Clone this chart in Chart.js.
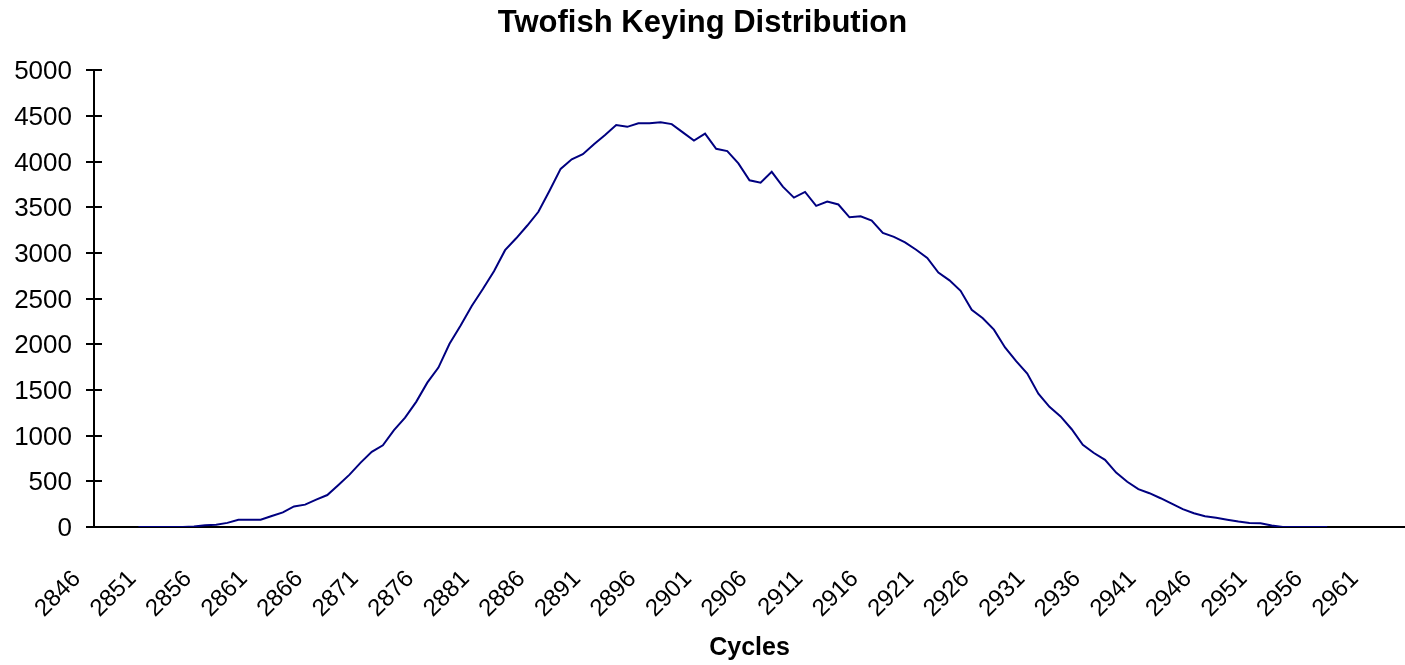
<!DOCTYPE html>
<html>
<head>
<meta charset="utf-8">
<title>Twofish Keying Distribution</title>
<script src="https://cdn.jsdelivr.net/npm/chart.js@4.4.1/dist/chart.umd.min.js"></script>
<style>
   html, body { margin: 0; padding: 0; background: #fff; overflow: hidden; }
</style>
</head>
<body>
<canvas id="keying-chart" width="1405" height="665"></canvas>
<script>
/*=======================================
 data
========================================*/

// one category per cycle, 2846 .. 2964
var cycles = [];
for (let c = 2846; c <= 2964; c++) cycles.push(String(c));

// number of keys that took that many cycles
var keyings = [
   null, null, null, null,
   0, 0, 0, 0, 0, 5, 20, 25, 45, 80,
   80, 80, 120, 160, 225, 245, 300, 350, 460, 573,
   705, 822, 895, 1060, 1197, 1370, 1580, 1745, 2005, 2205,
   2420, 2605, 2800, 3030, 3160, 3300, 3450, 3680, 3920, 4025,
   4080, 4190, 4290, 4400, 4380, 4418, 4420, 4430, 4410, 4320,
   4230, 4305, 4140, 4115, 3980, 3795, 3768, 3888, 3725, 3605,
   3667, 3515, 3562, 3530, 3390, 3400, 3355, 3220, 3175, 3115,
   3035, 2945, 2785, 2700, 2585, 2377, 2285, 2160, 1965, 1815,
   1680, 1460, 1315, 1210, 1070, 900, 810, 735, 595, 495,
   415, 370, 315, 255, 195, 150, 118, 100, 80, 60,
   44, 40, 16, 0, 0, 0, 0, 0,
   null, null, null, null, null, null, null
];

// y axis runs 0..5000 in steps of 500
var yMax = 5000;
var yStep = 500;
// only every fifth cycle gets a label
var labelEvery = 5;

/*=======================================
 chart
========================================*/

// short tick marks that poke into the plot on the value axis
const innerTicks = {
   id: 'innerTicks',
   afterDraw(chart) {
      const y = chart.scales.y;
      const ctx = chart.ctx;
      ctx.save();
      ctx.strokeStyle = '#000';
      ctx.lineWidth = 2;
      y.ticks.forEach((t, i) => {
         const py = Math.round(y.getPixelForTick(i));
         ctx.beginPath();
         ctx.moveTo(y.right, py);
         ctx.lineTo(y.right + 8, py);
         ctx.stroke();
      });
      ctx.restore();
   }
};

var ctx = document.getElementById('keying-chart');

var keyingChart = new Chart(ctx, {
   type: 'line',
   data: {
      labels: cycles,
      datasets: [{
         label: 'Keys',
         data: keyings,
         borderColor: '#000080',
         borderWidth: 2,
         pointRadius: 0,
         tension: 0,
         fill: false
      }]
   },
   options: {
      responsive: false,
      animation: false,
      devicePixelRatio: 1,
      layout: { padding: 0 },
      plugins: {
         legend: { display: false },
         tooltip: { enabled: false },
         title: {
            display: true,
            text: 'Twofish Keying Distribution',
            color: '#000',
            font: { family: 'Liberation Sans', size: 31, weight: 'bold' },
            padding: { top: 5, bottom: 28 }
         }
      },
      scales: {
         x: {
            offset: false,
            grid: { display: false },
            border: { display: true, color: '#000', width: 2 },
            ticks: {
               autoSkip: false,
               maxRotation: 45,
               minRotation: 45,
               padding: 30,
               labelOffset: -17,
               color: '#000',
               font: { family: 'Liberation Sans', size: 24 },
               callback: function (value, index) {
                  return index % labelEvery === 0 ? cycles[index] : null;
               }
            },
            title: {
               display: true,
               text: 'Cycles',
               color: '#000',
               font: { family: 'Liberation Sans', size: 25, weight: 'bold' },
               padding: { top: 0, bottom: 2 }
            },
            afterFit: function (scale) {
               scale.height = 138;
               scale.paddingLeft = 0;
               scale.paddingRight = 0;
            }
         },
         y: {
            min: 0,
            max: yMax,
            grid: {
               drawOnChartArea: false,
               drawTicks: true,
               tickLength: 8,
               tickColor: '#000',
               lineWidth: 2
            },
            border: { display: true, color: '#000', width: 2 },
            ticks: {
               stepSize: yStep,
               padding: 14,
               labelOffset: 2,
               color: '#000',
               font: { family: 'Liberation Sans', size: 26 },
               callback: function (value) {
                  return String(value);
               }
            },
            afterFit: function (scale) {
               scale.width = 94;
               scale.paddingTop = 0;
               scale.paddingBottom = 0;
            }
         }
      }
   },
   plugins: [innerTicks]
});
</script>
</body>
</html>
